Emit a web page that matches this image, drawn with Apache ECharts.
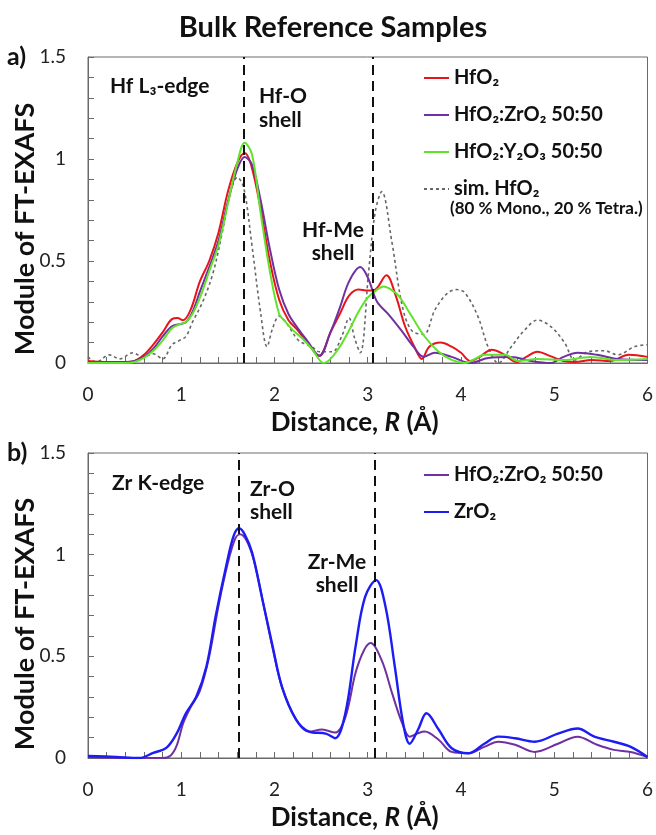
<!DOCTYPE html>
<html><head><meta charset="utf-8">
<script src="https://cdn.jsdelivr.net/npm/echarts@6/dist/echarts.min.js"></script>
<style>html,body{margin:0;padding:0;background:#fff}#c{width:656px;height:835px}</style>
</head><body><div id="c"></div>
<script>
// ---- data (R in Å, module of FT-EXAFS) ----
const shellLinesA = [1.665, 3.05];
const shellLinesB = [1.62, 3.08];

const hfo2A = [[0,0.01],[0.2,0.005],[0.4,0.005],[0.5,0.01],[0.6,0.04],[0.7,0.09],[0.8,0.15],[0.9,0.215],[0.96,0.22],[1.02,0.21],[1.1,0.26],[1.2,0.40],[1.3,0.50],[1.4,0.64],[1.5,0.84],[1.6,0.98],[1.68,1.03],[1.75,0.97],[1.85,0.76],[1.95,0.50],[2.05,0.31],[2.15,0.21],[2.25,0.16],[2.35,0.10],[2.48,0.035],[2.6,0.15],[2.7,0.24],[2.8,0.33],[2.9,0.36],[3.0,0.355],[3.08,0.36],[3.2,0.43],[3.3,0.33],[3.4,0.18],[3.5,0.08],[3.58,0.02],[3.66,0.08],[3.78,0.10],[3.9,0.08],[4.0,0.05],[4.1,0.01],[4.2,0.03],[4.33,0.065],[4.45,0.045],[4.6,0.005],[4.7,0.03],[4.82,0.055],[4.95,0.035],[5.1,0.01],[5.22,0.005],[5.4,0.015],[5.6,0.01],[5.8,0.04],[6.0,0.03]];

const hfzrA = [[0,0.005],[0.4,0.005],[0.5,0.01],[0.6,0.03],[0.7,0.07],[0.8,0.13],[0.9,0.18],[0.98,0.19],[1.05,0.20],[1.12,0.25],[1.2,0.35],[1.3,0.47],[1.4,0.60],[1.5,0.79],[1.6,0.95],[1.68,1.01],[1.76,0.97],[1.85,0.80],[1.95,0.56],[2.05,0.36],[2.15,0.24],[2.25,0.17],[2.35,0.11],[2.48,0.035],[2.6,0.15],[2.7,0.27],[2.8,0.40],[2.92,0.47],[3.0,0.42],[3.1,0.30],[3.22,0.24],[3.36,0.16],[3.49,0.08],[3.6,0.03],[3.72,0.05],[3.9,0.03],[4.1,0.0],[4.29,0.025],[4.54,0.03],[4.75,0.01],[4.96,0.0],[5.1,0.03],[5.25,0.05],[5.46,0.04],[5.68,0.02],[6.0,0.015]];

const hfyA = [[0,0.0],[0.4,0.0],[0.5,0.005],[0.6,0.025],[0.7,0.06],[0.8,0.11],[0.9,0.17],[0.98,0.19],[1.05,0.20],[1.12,0.24],[1.2,0.32],[1.3,0.45],[1.4,0.58],[1.5,0.78],[1.6,0.98],[1.68,1.08],[1.76,1.02],[1.85,0.74],[1.95,0.45],[2.05,0.24],[2.12,0.20],[2.2,0.16],[2.3,0.12],[2.4,0.07],[2.53,0.0],[2.6,0.02],[2.7,0.08],[2.8,0.16],[2.9,0.25],[3.0,0.32],[3.1,0.36],[3.17,0.375],[3.25,0.36],[3.33,0.33],[3.47,0.23],[3.61,0.13],[3.76,0.055],[3.9,0.015],[4.04,0.0],[4.15,0.02],[4.25,0.04],[4.47,0.04],[4.61,0.01],[4.82,0.02],[5.1,0.015],[5.39,0.03],[5.68,0.015],[6.0,0.02]];

const simA = [[0,0.03],[0.09,0.005],[0.23,0.04],[0.34,0.02],[0.48,0.05],[0.59,0.03],[0.70,0.045],[0.80,0.02],[0.9,0.09],[0.98,0.11],[1.05,0.13],[1.12,0.20],[1.23,0.30],[1.34,0.44],[1.44,0.64],[1.53,0.84],[1.60,0.91],[1.67,0.86],[1.76,0.57],[1.85,0.25],[1.92,0.08],[1.98,0.17],[2.05,0.23],[2.13,0.195],[2.26,0.11],[2.4,0.08],[2.48,0.055],[2.62,0.055],[2.72,0.13],[2.8,0.22],[2.86,0.12],[2.92,0.05],[3.01,0.45],[3.08,0.74],[3.15,0.84],[3.26,0.59],[3.37,0.28],[3.47,0.16],[3.6,0.14],[3.72,0.26],[3.85,0.34],[3.95,0.36],[4.04,0.345],[4.18,0.23],[4.29,0.08],[4.40,0.0],[4.54,0.08],[4.68,0.16],[4.82,0.21],[4.96,0.18],[5.11,0.10],[5.22,0.015],[5.36,0.055],[5.54,0.06],[5.68,0.04],[5.86,0.08],[6.0,0.09]];

const hfzrB = [[0,0.005],[0.5,0.0],[0.8,0.0],[0.88,0.01],[0.95,0.06],[1.02,0.17],[1.1,0.25],[1.2,0.33],[1.3,0.50],[1.4,0.75],[1.5,0.96],[1.58,1.08],[1.63,1.10],[1.7,1.07],[1.78,0.97],[1.88,0.76],[1.98,0.54],[2.08,0.35],[2.23,0.19],[2.37,0.13],[2.51,0.14],[2.65,0.125],[2.76,0.20],[2.87,0.42],[2.96,0.53],[3.03,0.565],[3.15,0.48],[3.26,0.32],[3.37,0.17],[3.45,0.105],[3.53,0.12],[3.61,0.13],[3.76,0.09],[3.9,0.03],[4.08,0.023],[4.25,0.055],[4.4,0.08],[4.58,0.065],[4.79,0.03],[5.04,0.07],[5.25,0.105],[5.46,0.065],[5.64,0.04],[5.82,0.03],[6.0,0.005]];

const zro2B = [[0,0.01],[0.3,0.005],[0.55,0.0],[0.7,0.025],[0.84,0.05],[0.95,0.12],[1.05,0.22],[1.16,0.30],[1.27,0.45],[1.37,0.70],[1.48,0.94],[1.56,1.09],[1.62,1.13],[1.68,1.10],[1.76,1.01],[1.87,0.78],[1.98,0.55],[2.08,0.35],[2.23,0.19],[2.37,0.13],[2.55,0.12],[2.65,0.097],[2.76,0.22],[2.87,0.55],[2.97,0.79],[3.09,0.875],[3.19,0.745],[3.29,0.45],[3.38,0.17],[3.45,0.07],[3.54,0.14],[3.63,0.22],[3.76,0.14],[3.9,0.048],[4.08,0.023],[4.25,0.07],[4.4,0.105],[4.58,0.097],[4.79,0.08],[5.04,0.12],[5.25,0.145],[5.43,0.105],[5.64,0.08],[5.82,0.055],[6.0,0.005]];

// ---- styling ----
const FONT = 'Lato, "Noto Sans", sans-serif';
const FRAME = '#6a6a6a';
const C_RED = '#e8141c', C_PUR = '#7030a0', C_GRN = '#5fe32b', C_SIM = '#666666', C_BLUE = '#1c1cf5';

const grids = [
  {left: 88, top: 57, width: 562, height: 306, show: true, borderColor: FRAME, borderWidth: 1},
  {left: 88, top: 453, width: 562, height: 305, show: true, borderColor: FRAME, borderWidth: 1}
];

function mkX(gi){
  return {type:'value', gridIndex: gi, min:0, max:6, interval:1,
    axisLine:{show:true, lineStyle:{color:FRAME, width:1}},
    axisTick:{show:true, inside:true, length:6, lineStyle:{color:FRAME}},
    minorTick:{show:true, splitNumber:5, length:6, lineStyle:{color:FRAME}},
    splitLine:{show:false},
    axisLabel:{margin:22, fontSize:19, color:'#222', fontFamily:FONT},
    name:'{n|Distance, }{i|R}{n| (Å)}', nameLocation:'middle', nameGap:47,
    nameTextStyle:{padding:[0,26,0,0], rich:{
      n:{fontSize:26, fontWeight:'bold', fontFamily:FONT, color:'#111'},
      i:{fontSize:26, fontWeight:'bold', fontStyle:'italic', fontFamily:FONT, color:'#111'}}}
  };
}
function mkY(gi){
  return {type:'value', gridIndex: gi, min:0, max:1.5, interval:0.5,
    axisLine:{show:true, lineStyle:{color:FRAME, width:1}},
    axisTick:{show:true, inside:true, length:6, lineStyle:{color:FRAME}},
    minorTick:{show:true, splitNumber:5, length:6, lineStyle:{color:FRAME}},
    splitLine:{show:false},
    axisLabel:{margin:22, fontSize:19, color:'#222', fontFamily:FONT}
  };
}
function line(name, data, color, gi, extra){
  return Object.assign({type:'line', name, data, xAxisIndex:gi, yAxisIndex:gi,
    symbol:'none', smooth:0.35, lineStyle:{color, width:2}, itemStyle:{color}, z:3}, extra||{});
}
function vlines(vals){
  return {symbol:['none','none'], silent:true, label:{show:false},
    lineStyle:{color:'#111', width:2, type:[10,6]},
    data: vals.map(v => ({xAxis: v}))};
}

const series = [
  line('HfO₂', hfo2A, C_RED, 0, {markLine: vlines(shellLinesA)}),
  line('HfO₂:ZrO₂ 50:50', hfzrA, C_PUR, 0),
  line('HfO₂:Y₂O₃ 50:50', hfyA, C_GRN, 0),
  line('sim. HfO₂', simA, C_SIM, 0, {lineStyle:{color:C_SIM, width:1.6, type:[3,3]}, z:2}),
  line('HfO₂:ZrO₂ 50:50 ', hfzrB, C_PUR, 1, {markLine: vlines(shellLinesB)}),
  line('ZrO₂', zro2B, C_BLUE, 1, {lineStyle:{color:C_BLUE, width:2.4}})
];

const legendText = {fontSize:20, fontWeight:'bold', fontFamily:FONT, color:'#111', lineHeight:22};
const legends = [
  {orient:'vertical', left:418, top:62, itemWidth:25, itemHeight:4, itemGap:15,
   textStyle:legendText, selectedMode:false, itemStyle:{opacity:0},
   data:['HfO₂','HfO₂:ZrO₂ 50:50','HfO₂:Y₂O₃ 50:50','sim. HfO₂']},
  {orient:'vertical', left:418, top:459, itemWidth:25, itemHeight:4, itemGap:15,
   textStyle:legendText, selectedMode:false, itemStyle:{opacity:0},
   formatter: n => n.trim(),
   data:['HfO₂:ZrO₂ 50:50 ','ZrO₂']}
];

function txt(text, x, y, size, align, extra){
  return Object.assign({type:'text', x, y, silent:true,
    style:{text, fill:'#111', font:'bold ' + size + 'px ' + FONT, textAlign: align||'left', textVerticalAlign:'middle'}}, extra||{});
}

const graphic = [
  txt('Bulk Reference Samples', 333, 28, 29, 'center'),
  txt('a)', 7, 57, 25, 'left'),
  txt('b)', 7, 453, 25, 'left'),
  {type:'text', x:25, y:229, rotation:Math.PI/2, silent:true,
   style:{text:'Module of FT-EXAFS', fill:'#111', font:'bold 27px ' + FONT, textAlign:'center', textVerticalAlign:'middle'}},
  {type:'text', x:25, y:624, rotation:Math.PI/2, silent:true,
   style:{text:'Module of FT-EXAFS', fill:'#111', font:'bold 27px ' + FONT, textAlign:'center', textVerticalAlign:'middle'}},
  txt('Hf L₃-edge', 110, 86, 21),
  txt('Hf-O', 259, 96, 21),
  txt('shell', 259, 120, 21),
  txt('Hf-Me', 333, 230, 21, 'center'),
  txt('shell', 333, 253, 21, 'center'),
  txt('(80 % Mono., 20 % Tetra.)', 450, 209, 17),
  txt('Zr K-edge', 112, 483, 21),
  txt('Zr-O', 250, 489, 21),
  txt('shell', 250, 512, 21),
  txt('Zr-Me', 337, 562, 21, 'center'),
  txt('shell', 337, 585, 21, 'center')
];

const chart = echarts.init(document.getElementById('c'), null, {renderer:'canvas'});
chart.setOption({
  animation:false,
  backgroundColor:'#fff',
  grid: grids,
  xAxis: [mkX(0), mkX(1)],
  yAxis: [mkY(0), mkY(1)],
  legend: legends,
  series,
  graphic
});
</script></body></html>
